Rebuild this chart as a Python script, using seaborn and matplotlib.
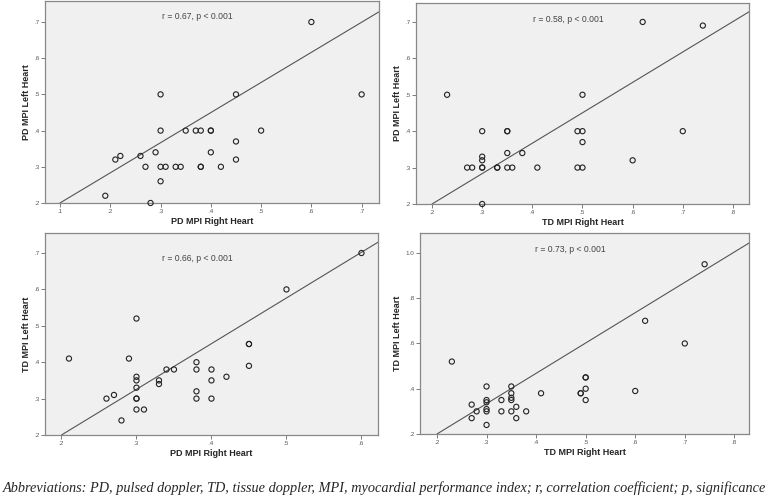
import matplotlib
matplotlib.use("Agg")
import numpy as np
import pandas as pd
import seaborn as sns
import matplotlib.pyplot as plt
from matplotlib.ticker import FuncFormatter

# data
pd_right_1 = [0.19, 0.21, 0.22, 0.26, 0.27, 0.28, 0.29, 0.30, 0.30, 0.30, 0.31, 0.30, 0.33, 0.34,
              0.35, 0.37, 0.38, 0.38, 0.38, 0.40, 0.40, 0.40, 0.42, 0.45, 0.45, 0.45, 0.50, 0.60, 0.70]
pd_left_1 = [0.22, 0.32, 0.33, 0.33, 0.30, 0.20, 0.34, 0.50, 0.40, 0.30, 0.30, 0.26, 0.30, 0.30,
             0.40, 0.40, 0.40, 0.30, 0.30, 0.40, 0.40, 0.34, 0.30, 0.50, 0.37, 0.32, 0.40, 0.70, 0.50]

td_right_2 = [0.23, 0.27, 0.28, 0.30, 0.30, 0.30, 0.30, 0.30, 0.30, 0.33, 0.33, 0.35, 0.35, 0.35, 0.35,
              0.36, 0.38, 0.41, 0.49, 0.50, 0.50, 0.50, 0.49, 0.50, 0.60, 0.62, 0.70, 0.74]
pd_left_2 = [0.50, 0.30, 0.30, 0.40, 0.33, 0.32, 0.30, 0.30, 0.20, 0.30, 0.30, 0.40, 0.40, 0.34, 0.30,
             0.30, 0.34, 0.30, 0.40, 0.40, 0.50, 0.37, 0.30, 0.30, 0.32, 0.70, 0.40, 0.69]

pd_right_3 = [0.21, 0.26, 0.27, 0.28, 0.29, 0.30, 0.30, 0.30, 0.30, 0.30, 0.30, 0.30, 0.31, 0.33, 0.33,
              0.34, 0.35, 0.38, 0.38, 0.38, 0.38, 0.40, 0.40, 0.40, 0.42, 0.45, 0.45, 0.45, 0.50, 0.60]
td_left_3 = [0.41, 0.30, 0.31, 0.24, 0.41, 0.52, 0.36, 0.35, 0.33, 0.30, 0.30, 0.27, 0.27, 0.35, 0.34,
             0.38, 0.38, 0.40, 0.38, 0.32, 0.30, 0.38, 0.35, 0.30, 0.36, 0.45, 0.45, 0.39, 0.60, 0.70]

td_right_4 = [0.23, 0.27, 0.27, 0.28, 0.30, 0.30, 0.30, 0.30, 0.30, 0.30, 0.33, 0.33, 0.35, 0.35, 0.35,
              0.35, 0.35, 0.36, 0.36, 0.38, 0.41, 0.49, 0.49, 0.50, 0.50, 0.50, 0.50, 0.60, 0.62, 0.70, 0.74]
td_left_4 = [0.52, 0.33, 0.27, 0.30, 0.41, 0.35, 0.34, 0.31, 0.30, 0.24, 0.35, 0.30, 0.41, 0.38, 0.36,
             0.35, 0.30, 0.32, 0.27, 0.30, 0.38, 0.38, 0.38, 0.45, 0.45, 0.40, 0.35, 0.39, 0.70, 0.60, 0.95]

# fit lines as drawn in the original
fit_slope = [0.832, 0.835, 1.255, 1.34]
fit_intercept = [0.117, 0.033, -0.051, -0.068]

stats_text = ["r = 0.67, p < 0.001", "r = 0.58, p < 0.001", "r = 0.66, p < 0.001", "r = 0.73, p < 0.001"]
x_labels = ["PD MPI Right Heart", "TD MPI Right Heart", "PD MPI Right Heart", "TD MPI Right Heart"]
y_labels = ["PD MPI Left Heart", "PD MPI Left Heart", "TD MPI Left Heart", "TD MPI Left Heart"]

caption = ("Abbreviations: PD, pulsed doppler, TD, tissue doppler, MPI, myocardial performance index; "
           "r, correlation coefficient; p, significance")

sns.set_style("white")
plt.rcParams['font.family'] = ['Liberation Sans', 'DejaVu Sans']

fig = plt.figure(figsize=(7.78, 5), dpi=100)

# panel boxes [left, bottom, width, height] in figure fractions
boxes = [[0.0578, 0.594, 0.429, 0.404],
         [0.5347, 0.592, 0.428, 0.402],
         [0.0578, 0.130, 0.428, 0.404],
         [0.5400, 0.132, 0.423, 0.402]]
xlims = [(0.07, 0.734), (0.168, 0.832), (0.178, 0.622), (0.166, 0.830)]
ylims = [(0.2, 0.758), (0.2, 0.752), (0.2, 0.755), (0.2, 1.088)]
xticks = [np.arange(0.1, 0.71, 0.1), np.arange(0.2, 0.81, 0.1), np.arange(0.2, 0.61, 0.1), np.arange(0.2, 0.81, 0.1)]
yticks = [np.arange(0.2, 0.71, 0.1), np.arange(0.2, 0.71, 0.1), np.arange(0.2, 0.71, 0.1), np.arange(0.2, 1.01, 0.2)]
text_y = [0.925, 0.92, 0.876, 0.92]

panels = [(pd_right_1, pd_left_1), (td_right_2, pd_left_2), (pd_right_3, td_left_3), (td_right_4, td_left_4)]


def spss_fmt(v, pos):
    s = "%.1f" % v
    return s[1:] if s.startswith("0") else s


for i, (xs, ys) in enumerate(panels):
    ax = fig.add_axes(boxes[i])
    ax.set_facecolor("#f0f0f0")
    df = pd.DataFrame({"x": xs, "y": ys})
    ax.axline((0, fit_intercept[i]), slope=fit_slope[i], color="#555555", lw=0.8, zorder=2)
    sns.scatterplot(x="x", y="y", data=df, ax=ax, marker="o", s=14, facecolor="none",
                    edgecolor="#222222", linewidth=0.8, clip_on=False, zorder=3)
    ax.set_xlim(xlims[i])
    ax.set_ylim(ylims[i])
    ax.set_xticks(xticks[i])
    ax.set_yticks(yticks[i])
    ax.xaxis.set_major_formatter(FuncFormatter(spss_fmt))
    ax.yaxis.set_major_formatter(FuncFormatter(spss_fmt))
    ax.tick_params(axis="both", direction="out", length=3, width=0.6, color="#666666",
                   labelsize=4.5, labelcolor="#555555", pad=1, bottom=True, left=True)
    for sp in ax.spines.values():
        sp.set_color("#888888")
        sp.set_linewidth(0.9)
    ax.set_xlabel(x_labels[i], fontsize=6.5, fontweight="bold", labelpad=2.5)
    ax.set_ylabel(y_labels[i], fontsize=6.5, fontweight="bold", labelpad=2.5)
    ax.text(0.35, text_y[i], stats_text[i], transform=ax.transAxes, fontsize=6.2,
            color="#444444", va="center", ha="left")

fig.text(0.003, 0.024, caption, fontsize=10.3, style="italic", va="center", ha="left",
         family=["Liberation Serif", "DejaVu Serif"])

fig.savefig("out.png", dpi=100)
